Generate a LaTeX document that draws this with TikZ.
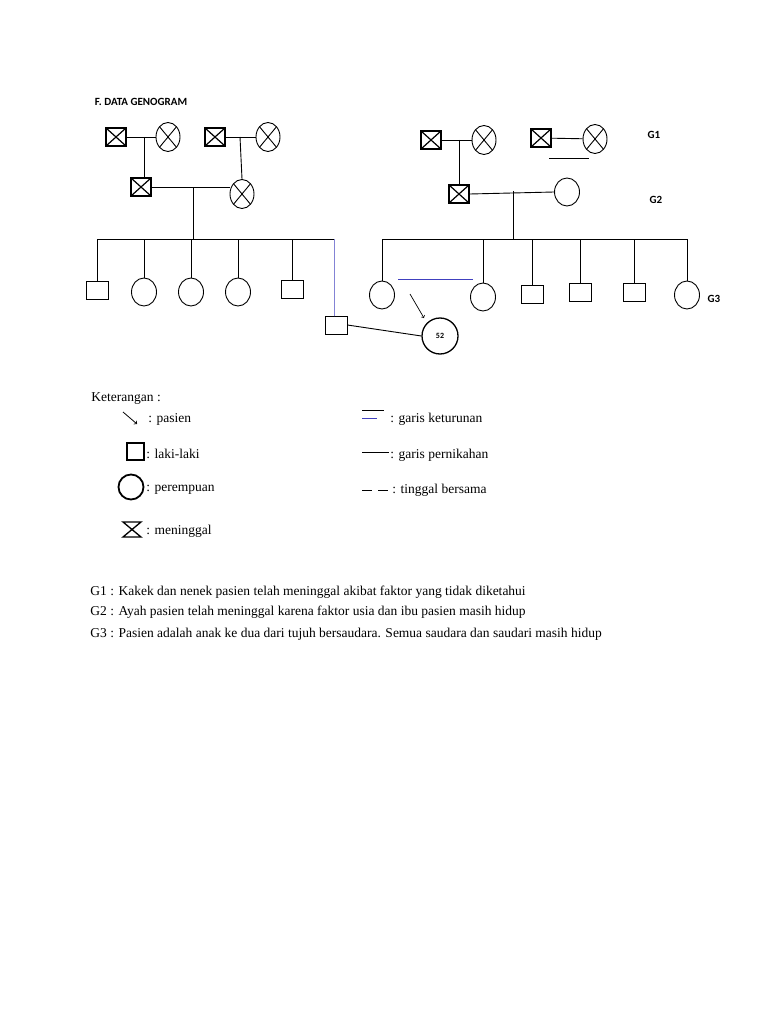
\documentclass[tikz,border=0pt]{standalone}
\usepackage{fontspec}
\setmainfont{Liberation Serif}
\newfontfamily\carlitofont{Carlito}
\usetikzlibrary{shapes.geometric}
\begin{document}
\begin{tikzpicture}[x=1pt,y=-1pt,line width=0.9pt,
 male/.style={draw,rectangle,minimum width=22pt,minimum height=18pt,inner sep=0pt},
 female/.style={draw,ellipse,minimum width=25pt,minimum height=28pt,inner sep=0pt},
 dm/.style={draw,rectangle,line width=1.6pt,minimum width=20pt,minimum height=18pt,inner sep=0pt,
   path picture={\draw[line width=1.2pt] (path picture bounding box.north west)--(path picture bounding box.south east)
   (path picture bounding box.north east)--(path picture bounding box.south west);}},
 df/.style={draw,ellipse,minimum width=24pt,minimum height=29pt,inner sep=0pt,
   path picture={\draw (path picture bounding box.north west)--(path picture bounding box.south east)
   (path picture bounding box.north east)--(path picture bounding box.south west);}},
 gl/.style={font=\carlitofont\bfseries\fontsize{11}{12}\selectfont},
 tx/.style={anchor=west,inner sep=0pt,font=\fontsize{13.5}{15}\selectfont},
 blu/.style={draw=blue!50!gray,line width=0.9pt}]
\useasboundingbox (0,0) rectangle (768,1024);
\node[gl,anchor=west] (title) at (91,102) {F. DATA GENOGRAM};
% left family
\node[dm] (a1) at (116,137) {}; \node[df] (a2) at (168,137) {};
\node[dm] (a3) at (215,137) {}; \node[df] (a4) at (268,137) {};
\draw (a1)--(a2); \draw (a3)--(a4);
\node[dm] (b1) at (141,187) {}; \node[df] (b2) at (242,194) {};
\draw (144,137)--(b1.north-|144,0); \draw (240,137)--(b2.north);
\draw (b1.east)--(b2.west|-b1.east);
\coordinate (lm) at (193,188);
\draw (lm)--(193,239);
\draw (97,239)--(334,239);
\node[male] (c1) at (97,290) {}; \node[female] (c2) at (144,292) {};
\node[female] (c3) at (191,292) {}; \node[female] (c4) at (238,292) {};
\node[male] (c5) at (292,289) {};
\foreach \n in {c1,c2,c3,c4,c5} \draw (\n.north|-0,239)--(\n.north);
\node[male] (h) at (336,325) {};
\draw[blu] (334,239)--(334,316)--(h.north-|334,0);
\node[draw,circle,line width=1.3pt,minimum size=36pt,inner sep=0pt,font=\carlitofont\bfseries\fontsize{8}{9}\selectfont] (p) at (440,336) {52};
\draw (h.east)--(p.west);
% right family
\node[dm] (r1) at (431,140) {}; \node[df] (r2) at (484,140) {};
\node[dm] (r3) at (541,138) {}; \node[df] (r4) at (595,139) {};
\draw (r1)--(r2); \draw (r3)--(r4);
\draw (549,158)--(589,158);
\node[dm] (s1) at (459,194) {}; \node[female] (s2) at (567,192) {};
\draw (459,140)--(s1.north);
\draw (s1.east)--(s2.west);
\draw (513,191)--(513,239);
\draw (383,239)--(688,239);
\node[female] (t1) at (382,295) {}; \node[female] (t2) at (483,297) {};
\node[male] (t3) at (532,294) {}; \node[male] (t4) at (580,292) {};
\node[male] (t5) at (634,292) {}; \node[female] (t6) at (687,295) {};
\foreach \n in {t1,t2,t3,t4,t5,t6} \draw (\n.north|-0,239)--(\n.north);
\draw[blu] (398,279)--(473,279);
\draw[->,line width=0.7pt] (410,294)--(424,318);
\node[gl] (g1) at (654,135) {G1}; \node[gl] (g2) at (656,200) {G2}; \node[gl] (g3) at (714,299) {G3};
% legend
\node[tx] (ket) at (91,399) {Keterangan :};
\draw[->,line width=0.8pt] (123,412)--(137,424);
\node[tx] (l1) at (148,419) {: pasien};
\node[draw,rectangle,line width=2pt,minimum size=17pt,inner sep=0pt] (lsq) at (135,451) {};
\node[tx] (l2) at (146,454) {: laki-laki};
\node[draw,circle,line width=1.8pt,minimum size=25pt,inner sep=0pt] (lci) at (131,487) {};
\node[tx] (l3) at (146,490) {: perempuan};
\draw[line width=1.3pt,fill=white] (123,522)--(141,522)--(123,537)--(141,537)--cycle;
\node[tx] (l4) at (146,531) {: meninggal};
\draw[line width=0.6pt] (362,410)--(384,410);
\draw[blu,line width=0.6pt] (362,418)--(377,418);
\node[tx] (r1t) at (390,419) {: garis keturunan};
\draw (362,452)--(389,452);
\node[tx] (r2t) at (390,455) {: garis pernikahan};
\draw (362,490)--(372,490) (378,490)--(388,490);
\node[tx] (r3t) at (392,490) {: tinggal bersama};
\node[tx] (x1) at (90,592) {G1 : Kakek dan nenek pasien telah meninggal akibat faktor yang tidak diketahui};
\node[tx] (x2) at (90,612) {G2 : Ayah pasien telah meninggal karena faktor usia dan ibu pasien masih hidup};
\node[tx] (x3) at (90,634) {G3 : Pasien adalah anak ke dua dari tujuh bersaudara. Semua saudara dan saudari masih hidup};
\end{tikzpicture}
\end{document}
